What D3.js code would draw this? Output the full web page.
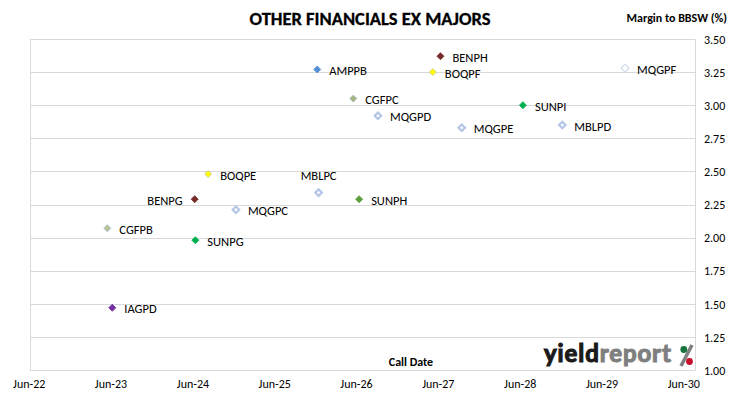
<!DOCTYPE html>
<html>
<head>
<meta charset="utf-8">
<script src="https://cdn.jsdelivr.net/npm/d3@7"></script>
<style>
  html, body { margin: 0; padding: 0; background: #ffffff; }
  svg { display: block; font-family: Carlito, Calibri, Lato, "Open Sans", sans-serif; }
</style>
</head>
<body>
<svg id="chart" width="730" height="399"></svg>
<script>
// ---- Data ----
const codes = ["IAGPD","CGFPB","SUNPG","BENPG","BOQPE","MQGPC","AMPPB","MBLPC","CGFPC","SUNPH","MQGPD","BOQPF","BENPH","MQGPE","SUNPI","MBLPD","MQGPF"];
const callDates = ["2023-06-09","2023-05-18","2024-06-14","2024-06-11","2024-08-10","2024-12-12","2025-12-10","2025-12-16","2026-05-20","2026-06-15","2026-09-07","2027-05-10","2027-06-13","2027-09-16","2028-06-15","2028-12-08","2029-09-14"];
const margins = [1.47, 2.07, 1.98, 2.29, 2.48, 2.21, 3.27, 2.34, 3.05, 2.29, 2.92, 3.25, 3.37, 2.83, 3.00, 2.85, 3.28];
const xTickLabels = ["Jun-22","Jun-23","Jun-24","Jun-25","Jun-26","Jun-27","Jun-28","Jun-29","Jun-30"];
const yTickValues = [1.00, 1.25, 1.50, 1.75, 2.00, 2.25, 2.50, 2.75, 3.00, 3.25, 3.50];

// ---- Styles (kept apart from data) ----
const markerStyle = {
  IAGPD: { fill: "#7030a0", stroke: "#7030a0", size: 7 },
  CGFPB: { fill: "#b9c48e", stroke: "#a5b8d8", size: 7 },
  SUNPG: { fill: "#00b050", stroke: "#00b050", size: 7 },
  BENPG: { fill: "#772c2a", stroke: "#772c2a", size: 7 },
  BOQPE: { fill: "#ffff00", stroke: "#c8c89a", size: 7 },
  MQGPC: { fill: "#ffffff", stroke: "#b4c5e6", size: 6.5, sw: 2.2 },
  AMPPB: { fill: "#558ed5", stroke: "#558ed5", size: 7 },
  MBLPC: { fill: "#ffffff", stroke: "#b4c5e6", size: 6.5, sw: 2.2 },
  CGFPC: { fill: "#a4b57e", stroke: "#a9b8c8", size: 7 },
  SUNPH: { fill: "#5d9e3b", stroke: "#5d9e3b", size: 7 },
  MQGPD: { fill: "#ffffff", stroke: "#b4c5e6", size: 6.5, sw: 2.2 },
  BOQPF: { fill: "#ffff00", stroke: "#c8c89a", size: 7 },
  BENPH: { fill: "#772c2a", stroke: "#772c2a", size: 7 },
  MQGPE: { fill: "#ffffff", stroke: "#b4c5e6", size: 6.5, sw: 2.2 },
  SUNPI: { fill: "#00b050", stroke: "#00b050", size: 7 },
  MBLPD: { fill: "#ffffff", stroke: "#b4c5e6", size: 6.5, sw: 2.2 },
  MQGPF: { fill: "#ffffff", stroke: "#c6d1ea", size: 8, sw: 1 }
};
const labelPlacement = { BENPG: "left", MBLPC: "top" };

// ---- Chart ----
const svg = d3.select("#chart");
const parse = d3.timeParse("%Y-%m-%d");
const points = codes.map((c, i) => ({ code: c, date: parse(callDates[i]), value: margins[i] }));

const x = d3.scaleTime()
  .domain([new Date(2022, 5, 1), new Date(2030, 5, 1)])
  .range([28.7, 683.3]);
const y = d3.scaleLinear().domain([1, 3.5]).range([370, 39]);

const plotLeft = 30, plotRight = 695;
const grid = "#d9d9d9";
const fontFam = "Carlito, Calibri, Lato, sans-serif";

// horizontal gridlines
svg.append("g").selectAll("line").data(yTickValues).join("line")
  .attr("x1", plotLeft).attr("x2", plotRight)
  .attr("y1", d => Math.round(y(d)) + 0.5).attr("y2", d => Math.round(y(d)) + 0.5)
  .attr("stroke", grid).attr("stroke-width", 1);
// frame verticals
svg.append("line").attr("x1", plotLeft + 0.5).attr("x2", plotLeft + 0.5)
  .attr("y1", Math.round(y(3.5)) + 0.5).attr("y2", Math.round(y(1)) + 0.5).attr("stroke", grid);
svg.append("line").attr("x1", plotRight + 0.5).attr("x2", plotRight + 0.5)
  .attr("y1", Math.round(y(3.5)) + 0.5).attr("y2", Math.round(y(1)) + 0.5).attr("stroke", grid);

// right y axis labels
const yAxis = d3.axisRight(y).tickValues(yTickValues).tickFormat(d3.format(".2f")).tickSize(0).tickPadding(0);
const gy = svg.append("g").attr("transform", `translate(704,0)`).call(yAxis);
gy.select(".domain").remove();
gy.selectAll("text").attr("font-family", fontFam)
  .attr("font-size", 12).attr("fill", "#000").attr("dy", "0.35em");

// bottom x axis labels
const xTicks = xTickLabels.map((l, i) => new Date(2022 + i, 5, 1));
const xAxis = d3.axisBottom(x).tickValues(xTicks).tickFormat((d, i) => xTickLabels[i]).tickSize(0).tickPadding(0);
const gx = svg.append("g").attr("transform", `translate(0,379)`).call(xAxis);
gx.select(".domain").remove();
gx.selectAll("text").attr("font-family", fontFam)
  .attr("font-size", 12).attr("fill", "#000").attr("dy", "0.71em");

// markers
const sq = d => d3.symbol(d3.symbolSquare, (markerStyle[d.code].size * markerStyle[d.code].size) / 2)();
svg.append("g").selectAll("path").data(points).join("path")
  .attr("d", sq)
  .attr("transform", d => `translate(${x(d.date)},${y(d.value)}) rotate(45)`)
  .attr("fill", d => markerStyle[d.code].fill)
  .attr("stroke", d => markerStyle[d.code].stroke)
  .attr("stroke-width", d => markerStyle[d.code].sw || 0.8);

// point labels
svg.append("g").selectAll("text").data(points).join("text")
  .attr("x", d => {
    const p = labelPlacement[d.code];
    if (p === "left") return x(d.date) - 12;
    if (p === "top") return x(d.date);
    return x(d.date) + 12;
  })
  .attr("y", d => labelPlacement[d.code] === "top" ? y(d.value) - 17 : y(d.value) + 1)
  .attr("text-anchor", d => labelPlacement[d.code] === "left" ? "end" : (labelPlacement[d.code] === "top" ? "middle" : "start"))
  .attr("dominant-baseline", "central")
  .attr("font-size", 12.5).attr("fill", "#000")
  .text(d => d.code);

// titles
svg.append("text").attr("x", 370).attr("y", 25).attr("text-anchor", "middle")
  .attr("font-size", 18.5).attr("font-weight", "bold").attr("fill", "#000")
  .attr("stroke", "#000").attr("stroke-width", 0.3)
  .text("OTHER FINANCIALS EX MAJORS");
svg.append("text").attr("x", 727).attr("y", 22).attr("text-anchor", "end")
  .attr("font-size", 12).attr("font-weight", "bold").attr("fill", "#000")
  .text("Margin to BBSW (%)");
svg.append("text").attr("x", 411).attr("y", 366).attr("text-anchor", "middle")
  .attr("font-size", 12).attr("font-weight", "bold").attr("fill", "#000")
  .text("Call Date");

// logo
const logo = svg.append("g");
const lt = logo.append("text").attr("x", 544).attr("y", 362)
  .attr("font-family", "Lato, sans-serif").attr("font-size", 24).attr("font-weight", "bold")
  .attr("stroke-width", 1.1).attr("letter-spacing", 0.9);
lt.append("tspan").attr("fill", "#1a1a1a").attr("stroke", "#1a1a1a").text("yield");
lt.append("tspan").attr("fill", "#7f7f7f").attr("stroke", "#7f7f7f").text("report");
logo.append("line").attr("x1", 692).attr("y1", 345).attr("x2", 681).attr("y2", 366)
  .attr("stroke", "#7f7f7f").attr("stroke-width", 3.5);
logo.append("circle").attr("cx", 683.8).attr("cy", 349.5).attr("r", 3.4).attr("fill", "#17733a");
logo.append("circle").attr("cx", 689.5).attr("cy", 361.5).attr("r", 3.4).attr("fill", "#c8102e");
</script>
</body>
</html>
